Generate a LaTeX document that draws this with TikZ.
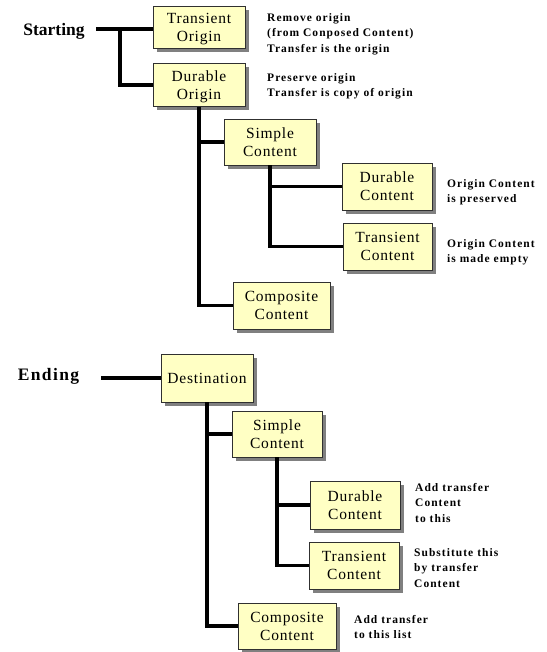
\documentclass[tikz,border=0pt]{standalone}
\usepackage{fontspec}
\setmainfont{Liberation Serif}
\newfontfamily\boxfont[LetterSpace=5]{Liberation Serif}
\newfontfamily\notefont[LetterSpace=9]{Liberation Serif}
\newfontfamily\headfont[LetterSpace=8]{Liberation Serif}
\usetikzlibrary{shadows}
\definecolor{boxfill}{HTML}{FFFFC4}
\definecolor{boxline}{HTML}{303030}
\definecolor{shade}{HTML}{808080}
\begin{document}
\begin{tikzpicture}[x=1pt,y=-1pt,
  item/.style={draw=boxline, line width=0.9pt, fill=boxfill, align=center,
    inner sep=0pt, text depth=0pt,
    font=\boxfont\fontsize{15.5}{18}\selectfont,
    drop shadow={shadow xshift=4pt, shadow yshift=-4pt, fill=shade, opacity=1}},
  note/.style={anchor=north west, align=left, inner sep=0pt,
    font=\notefont\bfseries\fontsize{11.5}{15.5}\selectfont},
  head/.style={inner sep=0pt, font=\bfseries\fontsize{17.5}{20}\selectfont},
  conn/.style={line width=3.2pt}]
\useasboundingbox (0,0) rectangle (546,652);

% ---- starting side ----
\node[head] (start) at (54,31) {Starting};
\node[item, minimum width=92pt, minimum height=42pt] (TO) at (199,27) {Transient\\Origin};
\node[item, minimum width=92pt, minimum height=43pt] (DO) at (199,85) {Durable\\Origin};
\node[item, minimum width=92pt, minimum height=46pt] (SC1) at (270,142) {Simple\\Content};
\node[item, minimum width=90pt, minimum height=47pt] (DC1) at (387,186.5) {Durable\\Content};
\node[item, minimum width=89pt, minimum height=47pt] (TC1) at (387.5,246.5) {Transient\\Content};
\node[item, minimum width=97pt, minimum height=47pt] (CC1) at (281.5,305.5) {Composite\\Content};

\node[note] (n1) at (267,13) {Remove origin\\(from Conposed Content)\\Transfer is the origin};
\node[note] (n2) at (267,73) {Preserve origin\\Transfer is copy of origin};
\node[note] (n3) at (447,179) {Origin Content\\is preserved};
\node[note] (n4) at (447,239) {Origin Content\\is made empty};

\coordinate (s0) at (96,29);
\coordinate (s1) at (120,29);
\draw[conn] (s0) -- (s0 -| TO.west);
\draw[conn] (s1) |- (DO.west);
\draw[conn] (DO.south) |- (SC1.west);
\draw[conn] (DO.south) |- (CC1.west);
\draw[conn] (SC1.south) |- (DC1.west);
\draw[conn] (SC1.south) |- (TC1.west);

% ---- ending side ----
\node[head, font=\headfont\bfseries\fontsize{17.5}{20}\selectfont] (end) at (48.5,376) {Ending};
\node[item, minimum width=92pt, minimum height=48pt] (DE) at (207,378) {Destination};
\node[item, minimum width=90pt, minimum height=46pt] (SC2) at (277,434) {Simple\\Content};
\node[item, minimum width=90pt, minimum height=48pt] (DC2) at (355,505) {Durable\\Content};
\node[item, minimum width=90pt, minimum height=47pt] (TC2) at (354,565.5) {Transient\\Content};
\node[item, minimum width=98pt, minimum height=46pt] (CC2) at (287,626) {Composite\\Content};

\node[note] (n5) at (415,483) {Add transfer\\Content\\to this};
\node[note] (n6) at (414,548) {Substitute this\\by transfer\\Content};
\node[note] (n7) at (354,615) {Add transfer\\to this list};

\coordinate (e0) at (101,378);
\draw[conn] (e0) -- (DE.west);
\draw[conn] (DE.south) |- (SC2.west);
\draw[conn] (DE.south) |- (CC2.west);
\draw[conn] (SC2.south) |- (DC2.west);
\draw[conn] (SC2.south) |- (TC2.west);
\end{tikzpicture}
\end{document}
